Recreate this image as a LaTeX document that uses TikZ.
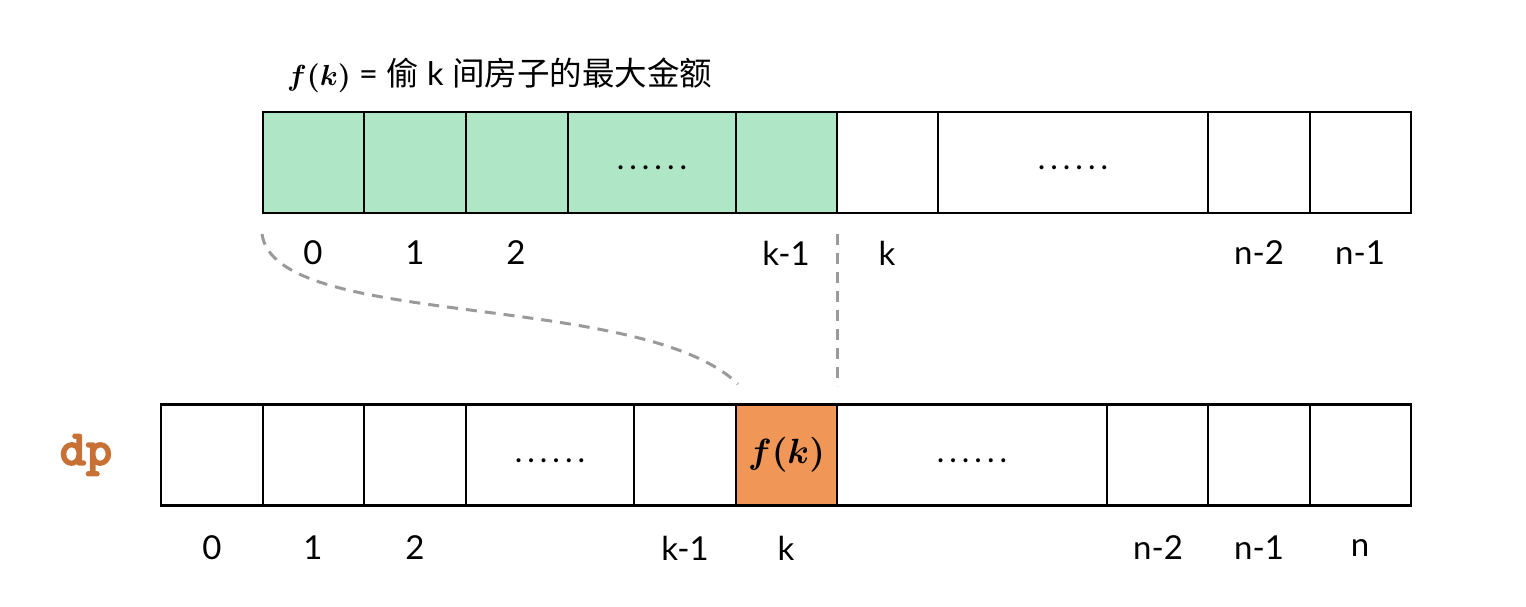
\documentclass[tikz,border=0pt]{standalone}
\usepackage{fontspec}
\setmainfont{Lato}
\newfontfamily\cjkfont{Noto Sans CJK SC}
\newfontfamily\dpfont{lmmonolt10-bold}[Extension=.otf,FakeBold=3]
\definecolor{cellgreen}{HTML}{AEE6C6}
\definecolor{cellorange}{HTML}{F09757}
\definecolor{dpcolor}{HTML}{C87137}
\definecolor{dashgray}{HTML}{9A9A9A}
\newcommand{\sixdots}{.\kern5pt.\kern5pt.\kern5pt.\kern5pt.\kern5pt.}
\newcommand{\fkbold}[1]{\scalebox{#1}{\fontsize{10}{12}\selectfont\boldmath$f(k)$}}
\begin{document}
\begin{tikzpicture}[x=1pt,y=-1pt,
  cellbox/.style={draw=black,line width=2.8pt,rectangle,inner sep=0pt,outer sep=0pt,minimum height=101pt},
  idx/.style={inner sep=0pt,font=\fontsize{33}{38}\selectfont},
  dotstext/.style={inner sep=0pt,font=\fontsize{32}{36}\selectfont},
  guide/.style={draw=dashgray,line width=3pt,dash pattern=on 11pt off 8pt}]
\useasboundingbox (0,0) rectangle (1526,606);
% title
\node[anchor=west,inner sep=0pt,font=\fontsize{32.5}{38}\selectfont] (title) at (287,75)
  {\fkbold{2.9} = {\cjkfont 偷} k {\cjkfont 间房子的最大金额}};
% top row
\node[cellbox,fill=cellgreen,minimum width=101pt] (t0) at (313.5,162.5) {};
\node[cellbox,fill=cellgreen,minimum width=102pt] (t1) at (415,162.5) {};
\node[cellbox,fill=cellgreen,minimum width=102pt] (t2) at (517,162.5) {};
\node[cellbox,fill=cellgreen,minimum width=168pt] (t3) at (652,162.5) {};
\node[cellbox,fill=cellgreen,minimum width=101pt] (t4) at (786.5,162.5) {};
\node[cellbox,minimum width=101pt] (t5) at (887.5,162.5) {};
\node[cellbox,minimum width=270pt] (t6) at (1073,162.5) {};
\node[cellbox,minimum width=102pt] (t7) at (1259,162.5) {};
\node[cellbox,minimum width=101pt] (t8) at (1360.5,162.5) {};
\node[dotstext] (td1) at (652,168) {\sixdots};
\node[dotstext] (td2) at (1073,168) {\sixdots};
% top labels
\node[idx] (tl0) at (313,253) {0};
\node[idx] (tl1) at (415,253) {1};
\node[idx] (tl2) at (516,253) {2};
\node[idx] (tl3) at (786,253) {k-1};
\node[idx] (tl4) at (887,253) {k};
\node[idx] (tl5) at (1259,253) {n-2};
\node[idx] (tl6) at (1360,253) {n-1};
% bottom row
\node[inner sep=0pt,font=\fontsize{50}{54}\selectfont\dpfont,text=dpcolor] (dp) at (86,455) {dp};
\node[cellbox,minimum width=102pt] (b0) at (212,455) {};
\node[cellbox,minimum width=101pt] (b1) at (313.5,455) {};
\node[cellbox,minimum width=102pt] (b2) at (415,455) {};
\node[cellbox,minimum width=168pt] (b3) at (550,455) {};
\node[cellbox,minimum width=102pt] (b4) at (685,455) {};
\node[cellbox,fill=cellorange,minimum width=101pt] (b5) at (786.5,455) {\fkbold{3.5}};
\node[cellbox,minimum width=270pt] (b6) at (972,455) {};
\node[cellbox,minimum width=101pt] (b7) at (1157.5,455) {};
\node[cellbox,minimum width=102pt] (b8) at (1259,455) {};
\node[cellbox,minimum width=101pt] (b9) at (1360.5,455) {};
\node[dotstext] (bd1) at (550,461) {\sixdots};
\node[dotstext] (bd2) at (972,461) {\sixdots};
% bottom labels
\node[idx] (bl0) at (212,548) {0};
\node[idx] (bl1) at (313,548) {1};
\node[idx] (bl2) at (415,548) {2};
\node[idx] (bl3) at (685,548) {k-1};
\node[idx] (bl4) at (786,548) {k};
\node[idx] (bl5) at (1158,548) {n-2};
\node[idx] (bl6) at (1259,548) {n-1};
\node[idx] (bl7) at (1360,548) {n};
% dashed guides
\coordinate (va) at (837,234);
\coordinate (vb) at (837,386);
\coordinate (ca) at (262,234);
\coordinate (cb) at (738,384);
\draw[guide] (va) -- (vb);
\draw[guide] (ca) .. controls (275,330) and (640,290) .. (cb);
\end{tikzpicture}
\end{document}
